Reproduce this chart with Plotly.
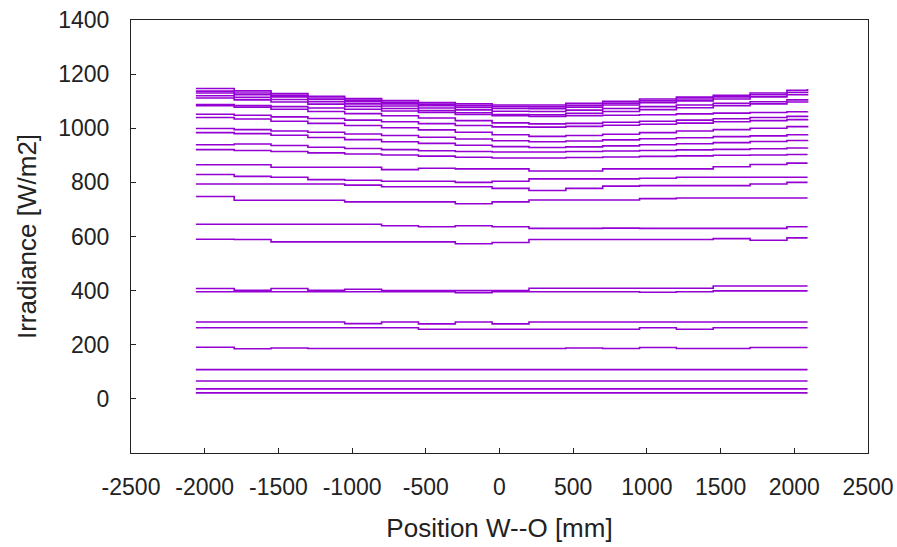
import plotly.graph_objects as go

# measurement positions along the W-O axis (mm)
pos = [-2060, -1800, -1550, -1300, -1050, -800, -550, -300, -50,
       200, 450, 700, 950, 1200, 1450, 1700, 1950, 2090]

# irradiance profiles (W/m2), one list per measurement run
run01 = [22] * 18
run02 = [37] * 18
run03 = [66] * 18
run04 = [108] * 18
run05 = [191, 185, 188, 186, 186, 186, 186, 186, 186, 186, 188, 186, 190, 186, 186, 190, 190, 190]
run06 = [263, 263, 263, 263, 263, 263, 257, 257, 257, 257, 257, 257, 263, 257, 263, 263, 263, 263]
run07 = [284, 284, 284, 284, 278, 284, 277, 284, 277, 284, 284, 284, 284, 284, 284, 284, 284, 284]
run08 = [396, 396, 396, 396, 396, 396, 396, 392, 396, 396, 396, 396, 394, 396, 399, 399, 399, 399]
run09 = [408, 401, 408, 401, 405, 400, 400, 400, 400, 409, 409, 409, 409, 409, 417, 417, 417, 417]
run10 = [590, 589, 580, 580, 580, 580, 580, 573, 578, 589, 589, 589, 589, 589, 592, 586, 595, 595]
run11 = [645, 645, 645, 645, 645, 640, 636, 640, 636, 630, 630, 631, 630, 630, 630, 630, 636, 636]
run12 = [748, 734, 734, 734, 728, 728, 728, 721, 728, 735, 735, 735, 740, 742, 742, 742, 742, 742]
run13 = [794, 794, 794, 794, 790, 784, 784, 784, 778, 770, 778, 786, 788, 788, 788, 794, 800, 800]
run14 = [829, 822, 819, 810, 808, 804, 804, 800, 804, 813, 813, 813, 815, 819, 819, 819, 819, 819]
run15 = [865, 865, 856, 856, 856, 847, 852, 850, 850, 842, 842, 850, 850, 850, 858, 866, 871, 871]
run16 = [921, 918, 914, 909, 905, 901, 897, 893, 890, 890, 892, 894, 896, 898, 900, 901, 903, 903]
run17 = [939, 942, 936, 930, 925, 921, 917, 914, 912, 912, 914, 916, 918, 920, 922, 924, 927, 928]
run18 = [984, 980, 974, 966, 958, 950, 944, 937, 932, 929, 931, 935, 939, 943, 947, 951, 955, 957]
run19 = [999, 995, 990, 985, 979, 973, 967, 960, 954, 950, 953, 957, 961, 965, 969, 972, 976, 978]
run20 = [1040, 1034, 1026, 1018, 1010, 1002, 994, 985, 976, 970, 973, 978, 984, 990, 995, 1000, 1006, 1009]
run21 = [1052, 1048, 1042, 1036, 1030, 1024, 1017, 1010, 1005, 1004, 1007, 1011, 1015, 1019, 1024, 1028, 1032, 1034]
run22 = [1083, 1078, 1070, 1062, 1054, 1046, 1038, 1028, 1020, 1016, 1018, 1022, 1026, 1030, 1035, 1040, 1044, 1046]
run23 = [1088, 1084, 1080, 1075, 1070, 1064, 1058, 1051, 1046, 1044, 1046, 1048, 1050, 1053, 1056, 1058, 1061, 1062]
run24 = [1112, 1105, 1097, 1089, 1081, 1073, 1065, 1057, 1051, 1050, 1055, 1062, 1069, 1076, 1083, 1090, 1097, 1100]
run25 = [1120, 1114, 1106, 1098, 1090, 1082, 1075, 1068, 1063, 1062, 1067, 1073, 1080, 1086, 1092, 1098, 1105, 1108]
run26 = [1130, 1124, 1116, 1106, 1098, 1090, 1083, 1077, 1073, 1072, 1078, 1086, 1094, 1101, 1108, 1116, 1124, 1127]
run27 = [1137, 1130, 1122, 1112, 1104, 1096, 1089, 1083, 1080, 1079, 1085, 1093, 1101, 1108, 1116, 1124, 1132, 1135]
run28 = [1147, 1138, 1128, 1118, 1110, 1102, 1095, 1090, 1086, 1086, 1092, 1100, 1108, 1115, 1122, 1130, 1140, 1145]

runs = [run01, run02, run03, run04, run05, run06, run07, run08, run09, run10,
        run11, run12, run13, run14, run15, run16, run17, run18, run19, run20,
        run21, run22, run23, run24, run25, run26, run27, run28]

# axis ticks, written with a plain hyphen like the original
x_ticks = [-2500, -2000, -1500, -1000, -500, 0, 500, 1000, 1500, 2000, 2500]
x_labels = [str(v) for v in x_ticks]
y_ticks = [0, 200, 400, 600, 800, 1000, 1200, 1400]

fig = go.Figure()
for r in runs:
    fig.add_trace(go.Scatter(x=pos, y=r, mode="lines", line_shape="hv",
                             line=dict(color="#9400d3", width=1.6),
                             showlegend=False, hoverinfo="skip"))

font = dict(family="Liberation Sans, Arial, sans-serif", size=22, color="#222")
tickfont = dict(family="Liberation Sans, Arial, sans-serif", size=23, color="#222")

fig.update_layout(
    width=897, height=547,
    margin=dict(l=131, r=29, t=20, b=94),
    plot_bgcolor="white", paper_bgcolor="white",
    font=font,
)
fig.update_xaxes(range=[-2500, 2500], tickvals=x_ticks, ticktext=x_labels,
                 tickfont=tickfont, automargin=False, ticklabeloverflow="allow",
                 showgrid=False, zeroline=False, showline=True, linecolor="#222",
                 linewidth=1, mirror=True, ticks="inside", ticklen=5, tickcolor="#222",
                 ticklabelstandoff=13,
                 title=dict(text="Position W--O [mm]", standoff=20))
fig.update_yaxes(range=[-200, 1400], tickvals=y_ticks,
                 tickfont=tickfont, automargin=False, ticklabeloverflow="allow",
                 showgrid=False, zeroline=False, showline=True, linecolor="#222",
                 linewidth=1, mirror=True, ticks="inside", ticklen=5, tickcolor="#222",
                 ticklabelstandoff=16,
                 title=dict(text="Irradiance [W/m2]", standoff=14))

# drop the default page margin so the figure sits at the window's top-left
fig.write_html("out.html", config={"displayModeBar": False},
               post_script="document.body.style.margin='0';document.body.style.overflow='hidden';")
